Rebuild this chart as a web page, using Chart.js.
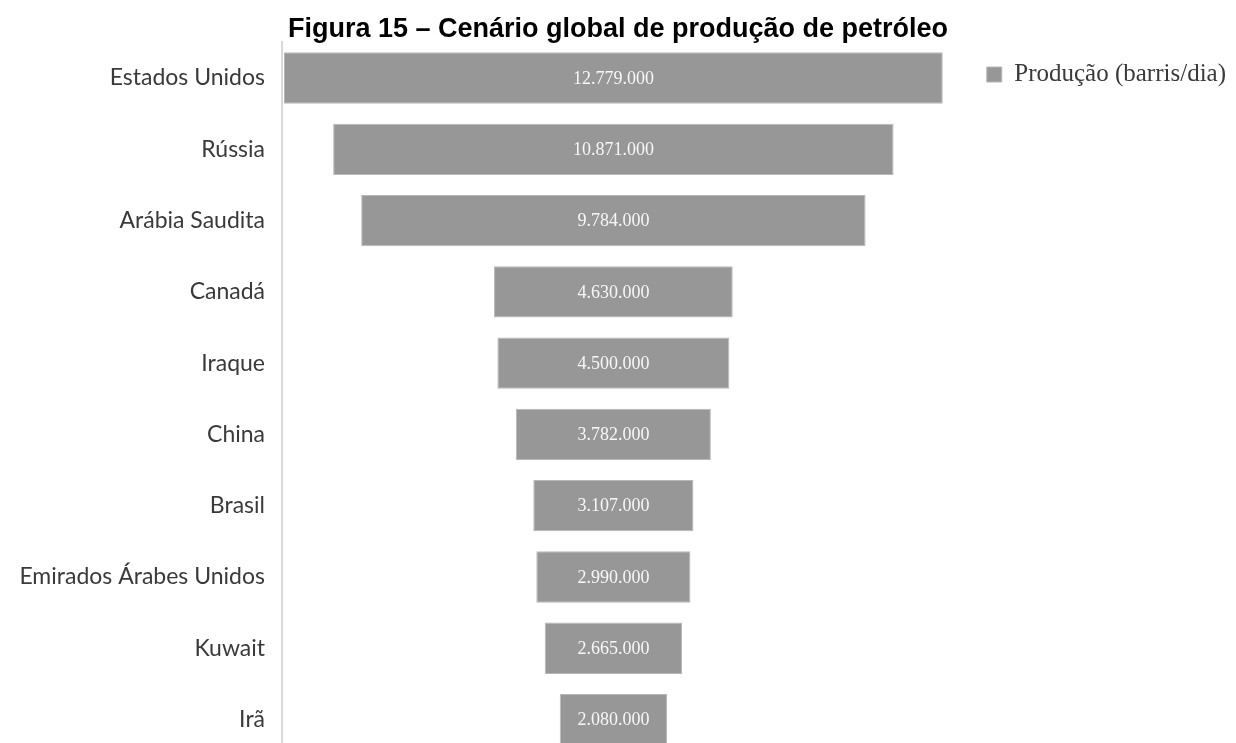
<!DOCTYPE html>
<html lang="pt-BR">
<head>
<meta charset="utf-8">
<title>Cenário global de produção de petróleo</title>
<script src="https://cdn.jsdelivr.net/npm/chart.js@4"></script>
<style>
    html, body { margin: 0; padding: 0; background: #fff; overflow: hidden; }
    canvas { display: block; }
</style>
</head>
<body>
<canvas id="funil" width="1236" height="786"></canvas>
<script>
// Produção de petróleo por país (barris/dia)
const paises = ['Estados Unidos', 'Rússia', 'Arábia Saudita', 'Canadá', 'Iraque', 'China', 'Brasil', 'Emirados Árabes Unidos', 'Kuwait', 'Irã'];
const producao = [12779000, 10871000, 9784000, 4630000, 4500000, 3782000, 3107000, 2990000, 2665000, 2080000];
const serieNome = 'Produção (barris/dia)';
const titulo = 'Figura 15 – Cenário global de produção de petróleo';

// limites do eixo horizontal (barras centradas no zero)
const eixoMin = -6428000;
const eixoMax = 7049000;

function formatarNumero(v) {
    return String(v).replace(/\B(?=(\d{3})+(?!\d))/g, '.');
}

// escreve o valor no meio de cada barra
const rotulosBarras = {
    id: 'rotulosBarras',
    afterDatasetsDraw(chart) {
        const ctx = chart.ctx;
        const meta = chart.getDatasetMeta(0);
        ctx.save();
        ctx.font = '18px "Liberation Serif", "Times New Roman", serif';
        ctx.fillStyle = '#f7f7f7';
        ctx.textAlign = 'center';
        ctx.textBaseline = 'middle';
        meta.data.forEach((bar, i) => {
            const cx = (bar.x + bar.base) / 2;
            ctx.fillText(formatarNumero(producao[i]), cx, bar.y + 1);
        });
        ctx.restore();
    }
};

new Chart(document.getElementById('funil'), {
    type: 'bar',
    data: {
        labels: paises,
        datasets: [{
            label: serieNome,
            data: producao.map(v => [-v / 2, v / 2]),
            backgroundColor: '#979797',
            borderColor: '#b8b8b8',
            borderWidth: 1,
            borderSkipped: false,
            categoryPercentage: 1,
            barPercentage: 0.72
        }]
    },
    options: {
        indexAxis: 'y',
        responsive: false,
        animation: false,
        layout: { padding: 0 },
        scales: {
            x: {
                display: false,
                min: eixoMin,
                max: eixoMax
            },
            y: {
                grid: { display: false, drawTicks: false },
                border: { display: true, color: '#d9d9d9', width: 2 },
                ticks: {
                    padding: 17,
                    color: '#3a3a3a',
                    font: { family: 'Lato, "Open Sans", sans-serif', size: 23 }
                },
                afterFit(scale) { scale.width = 282; }
            }
        },
        plugins: {
            title: {
                display: true,
                text: titulo,
                color: '#000',
                font: { family: '"Liberation Sans", Arial, sans-serif', size: 27, weight: 'bold', lineHeight: 0.94 },
                padding: { top: 17, bottom: 0 }
            },
            legend: {
                position: 'right',
                align: 'start',
                // título vazio só para baixar a legenda
                title: { display: true, text: ' ', font: { size: 10 }, padding: { top: 40, bottom: 0 } },
                labels: {
                    boxWidth: 15,
                    boxHeight: 15,
                    padding: 10,
                    color: '#3a3a3a',
                    font: { family: '"Liberation Serif", "Times New Roman", serif', size: 25 }
                }
            },
            tooltip: { enabled: false }
        }
    },
    plugins: [rotulosBarras]
});
</script>
</body>
</html>
